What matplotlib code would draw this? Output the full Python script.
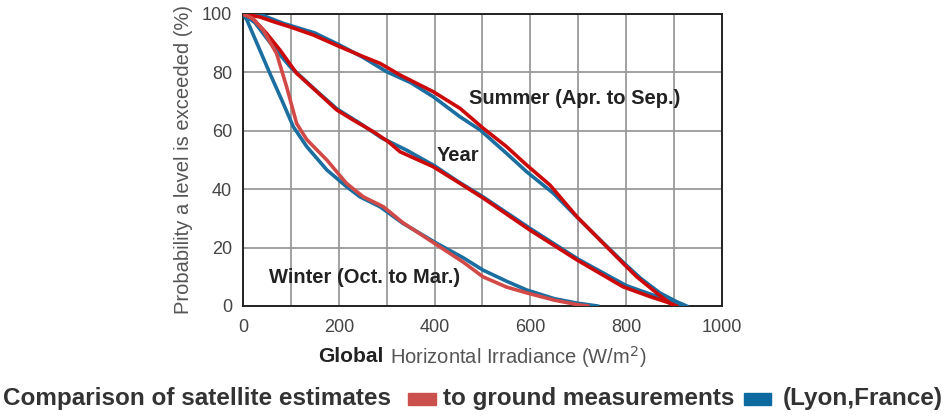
import matplotlib.pyplot as plt
from matplotlib.patches import Rectangle

plt.rcParams['font.family'] = ['Liberation Sans', 'DejaVu Sans']

# Exceedance curves: irradiance (W/m2) vs. probability a level is exceeded (%)
summer_sat_x = [0, 35, 63, 98, 147, 202, 251, 286, 328, 397, 453, 502, 550, 592, 641, 697, 759, 793, 822, 864, 891, 905]
summer_sat_y = [100, 99, 97.4, 95.6, 92.8, 88.8, 85.4, 83.1, 79.1, 73.4, 67.7, 60.8, 54.6, 48.3, 41.4, 30.6, 20.3, 14.7, 10, 4.4, 1, 0]
summer_gnd_x = [0, 40, 84, 150, 200, 250, 299, 350, 397, 453, 495, 550, 592, 648, 697, 759, 800, 830, 870, 905, 926]
summer_gnd_y = [100, 99.6, 96.8, 93.5, 89.5, 85.2, 80.3, 76.5, 71.7, 64.8, 60.3, 52.3, 46, 38.6, 30.5, 20.5, 14, 9.5, 4.5, 1.5, 0]

year_sat_x = [0, 20, 49, 77, 112, 154, 196, 230, 272, 303, 328, 397, 453, 502, 599, 697, 793, 850, 891, 900]
year_sat_y = [100, 98.5, 93.4, 87.7, 79.7, 73.4, 67.1, 63.7, 59.7, 56.3, 52.8, 47.7, 42, 36.9, 26, 15.8, 6.6, 3.2, 1, 0]
year_gnd_x = [0, 25, 63, 98, 154, 196, 244, 290, 340, 400, 450, 500, 600, 700, 800, 860, 900, 915]
year_gnd_y = [100, 97, 88.8, 82, 73.6, 67.5, 62.6, 57.5, 53.5, 48, 42.5, 37.5, 26.5, 16, 7, 3.5, 1, 0]

winter_sat_x = [0, 20, 42, 70, 91, 112, 133, 175, 216, 251, 293, 334, 404, 460, 501, 550, 592, 650, 697, 720]
winter_sat_y = [100, 98.5, 94.5, 86.5, 75.1, 62.5, 57, 50, 42, 37.4, 34, 28.5, 21, 15, 10, 6.5, 4.5, 2, 0.5, 0]
winter_gnd_x = [0, 8, 29, 56, 84, 105, 133, 175, 216, 244, 286, 334, 404, 460, 501, 550, 592, 650, 697, 740]
winter_gnd_y = [100, 98, 90, 79.7, 69.4, 61.4, 54.6, 46.6, 40.9, 37.4, 34, 28.3, 21.5, 16.5, 12.3, 8.5, 5.5, 2.5, 1, 0]

x_grid = list(range(0, 1001, 100))
x_labels = ['0', '', '200', '', '400', '', '600', '', '800', '', '1000']
y_ticks = [0, 20, 40, 60, 80, 100]

SAT_RED = '#cc0a0a'
SAT_RED_LIGHT = '#d24a48'
GND_BLUE = '#1a6ea0'
KEY_RED = '#c9504c'
KEY_BLUE = '#0c6aa0'

fig = plt.figure(figsize=(9.48, 4.17), dpi=100)
ax = fig.add_axes([243 / 948, 1 - 306 / 417, (722 - 243) / 948, (306 - 14) / 417])

lw = 2.6
ax.plot(summer_gnd_x, summer_gnd_y, color=GND_BLUE, lw=lw, zorder=3)
ax.plot(summer_sat_x, summer_sat_y, color=SAT_RED, lw=lw, zorder=4)
ax.plot(year_gnd_x, year_gnd_y, color=GND_BLUE, lw=lw, zorder=3)
ax.plot(year_sat_x, year_sat_y, color=SAT_RED, lw=lw, zorder=4)
ax.plot(winter_gnd_x, winter_gnd_y, color=GND_BLUE, lw=lw, zorder=3)
ax.plot(winter_sat_x, winter_sat_y, color=SAT_RED_LIGHT, lw=lw, zorder=4)

ax.set_xlim(0, 1000)
ax.set_ylim(0, 100)
ax.set_xticks(x_grid)
ax.set_xticklabels(x_labels)
ax.set_yticks(y_ticks)
ax.grid(True, color='#9a9a9a', lw=1.3, zorder=1)
ax.tick_params(length=0, labelsize=13, labelcolor='#444444')
ax.tick_params(axis='x', pad=9)
ax.tick_params(axis='y', pad=8)
for side in ax.spines.values():
    side.set_color('#222222')
    side.set_linewidth(1.4)

ax.set_ylabel('Probability a level is exceeded (%)', fontsize=14.5, color='#555555', labelpad=6)

# curve labels
lab = dict(fontsize=14.5, fontweight='bold', color='#222222', ha='center', va='center', zorder=6)
ax.text(692, 71.2, 'Summer (Apr. to Sep.)', **lab)
ax.text(448, 51.5, 'Year', **lab)
ax.text(254, 9.6, 'Winter (Oct. to Mar.)', **lab)

# x axis title: bold first word, regular rest
fig.text(318 / 948, 1 - 357 / 417, 'Global', fontsize=15, fontweight='bold', color='#222222',
         ha='left', va='center')
fig.text(390 / 948, 1 - 357 / 417, 'Horizontal Irradiance (W/m$^2$)', fontsize=14.5, color='#555555',
         ha='left', va='center')

# caption with colour keys
cy = 1 - 399 / 417
cap = dict(fontsize=17.5, fontweight='bold', color='#333333', va='center')
fig.text(3 / 948, cy, 'Comparison of satellite estimates', ha='left', **cap)
fig.text(443 / 948, cy, 'to ground measurements', ha='left', **cap)
fig.text(943 / 948, cy, '(Lyon,France)', ha='right', **cap)
fig.patches.append(Rectangle((408 / 948, 1 - 405 / 417), 28 / 948, 12 / 417,
                             transform=fig.transFigure, color=KEY_RED))
fig.patches.append(Rectangle((744 / 948, 1 - 405 / 417), 27 / 948, 12 / 417,
                             transform=fig.transFigure, color=KEY_BLUE))

fig.savefig('out.png', dpi=100)
